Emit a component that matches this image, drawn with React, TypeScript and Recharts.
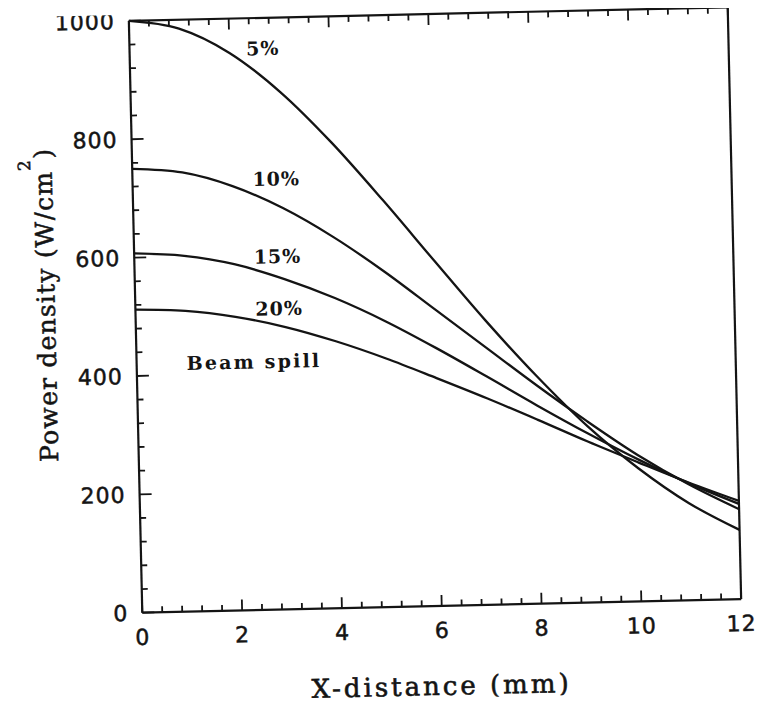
import { LineChart, Line, XAxis, YAxis, ReferenceDot } from 'recharts';

const xValues = [0, 1, 2, 3, 4, 5, 6, 7, 8, 9, 10, 11, 12];
const spill5 = [1000, 985, 942, 874, 787, 688, 584, 481, 385, 298, 225, 164, 117];
const spill10 = [750, 742, 717, 678, 627, 567, 501, 435, 369, 306, 247, 196, 152];
const spill15 = [607, 601, 585, 558, 524, 483, 436, 386, 335, 286, 240, 198, 161];
const spill20 = [512, 508, 496, 477, 451, 420, 385, 349, 311, 272, 235, 199, 166];

const curveLabels = ['5%', '10%', '15%', '20%', 'Beam spill'];
const curveLabelX = [2.67, 2.88, 2.87, 2.88, 2.35];
const curveLabelY = [949, 728, 597, 509, 420];

// minor ticks every 0.4 mm / 40 W, majors every 2 mm / 200 W
const xTicks = Array.from({ length: 31 }, (_, i) => Math.round(i * 4) / 10);
const yTicks = Array.from({ length: 26 }, (_, i) => i * 40);

const data = xValues.map((x, i) => ({
  x,
  s5: spill5[i],
  s10: spill10[i],
  s15: spill15[i],
  s20: spill20[i],
}));

const INK = '#141414';
const SERIF = '"DejaVu Serif", serif';
const SANS = '"DejaVu Sans", sans-serif';

const isMajor = (v: number, step: number) => Math.abs(v / step - Math.round(v / step)) < 1e-6;

function BottomTick({ x, y, payload }: any) {
  const major = isMajor(payload.value, 2);
  return (
    <g>
      <line x1={x} x2={x} y1={y} y2={y - (major ? 11 : 6)} stroke={INK} strokeWidth={1.8} />
      {major && (
        <text
          x={x}
          y={y + 32}
          textAnchor="middle"
          fontFamily={SANS}
          fontSize={22}
          letterSpacing={1}
          fill={INK}
          stroke={INK}
          strokeWidth={0.5}
        >
          {payload.value}
        </text>
      )}
    </g>
  );
}

function TopTick({ x, y, payload }: any) {
  const major = isMajor(payload.value, 2);
  return <line x1={x} x2={x} y1={y} y2={y + (major ? 11 : 6)} stroke={INK} strokeWidth={1.8} />;
}

function LeftTick({ x, y, payload }: any) {
  const major = isMajor(payload.value, 200);
  return (
    <g>
      <line x1={x} x2={x + (major ? 12 : 6)} y1={y} y2={y} stroke={INK} strokeWidth={1.8} />
      {major && (
        <text
          x={x - 14}
          y={y + 8}
          textAnchor="end"
          fontFamily={SANS}
          fontSize={22}
          letterSpacing={1}
          fill={INK}
          stroke={INK}
          strokeWidth={0.5}
        >
          {payload.value}
        </text>
      )}
    </g>
  );
}

function RightTick({ x, y, payload }: any) {
  const major = isMajor(payload.value, 200);
  return <line x1={x} x2={x - (major ? 11 : 6)} y1={y} y2={y} stroke={INK} strokeWidth={1.8} />;
}

function YTitle({ viewBox }: any) {
  const cx = viewBox.x + viewBox.width - 89;
  const cy = viewBox.y + viewBox.height / 2 - 14;
  return (
    <text
      x={cx}
      y={cy}
      transform={`rotate(-90 ${cx} ${cy})`}
      textAnchor="middle"
      dominantBaseline="central"
      fontFamily={SERIF}
      fontSize={25}
      letterSpacing={1.2}
      fill={INK}
      stroke={INK}
      strokeWidth={0.5}
    >
      Power density (W/cm
      <tspan fontSize={17} dy={-19}>2</tspan>
      <tspan dy={19}>)</tspan>
    </text>
  );
}

function XTitle({ viewBox }: any) {
  return (
    <text
      x={viewBox.x + viewBox.width / 2 - 2}
      y={viewBox.y + 89}
      textAnchor="middle"
      fontFamily={SERIF}
      fontSize={26}
      letterSpacing={3}
      fill={INK}
      stroke={INK}
      strokeWidth={0.6}
    >
      X-distance (mm)
    </text>
  );
}

const axisLine = { stroke: INK, strokeWidth: 2.2 };

export default function App() {
  return (
    <div style={{ width: 750, height: 690, transform: 'rotate(-1.3deg)', transformOrigin: '427px 302px' }}>
      <LineChart width={750} height={690} data={data} margin={{ top: 5, right: 22.5, bottom: 91, left: 126.5 }}>
        <XAxis
          xAxisId="b"
          dataKey="x"
          type="number"
          domain={[0, 12]}
          ticks={xTicks}
          interval={0}
          height={1}
          tickSize={0}
          tickMargin={0}
          tickLine={false}
          axisLine={axisLine}
          tick={<BottomTick />}
          label={{ content: <XTitle /> }}
        />
        <XAxis
          xAxisId="t"
          orientation="top"
          dataKey="x"
          type="number"
          domain={[0, 12]}
          ticks={xTicks}
          interval={0}
          height={1}
          tickSize={0}
          tickMargin={0}
          tickLine={false}
          axisLine={axisLine}
          tick={<TopTick />}
        />
        <YAxis
          yAxisId="l"
          type="number"
          domain={[0, 1000]}
          ticks={yTicks}
          interval={0}
          width={1}
          tickSize={0}
          tickMargin={0}
          tickLine={false}
          axisLine={axisLine}
          tick={<LeftTick />}
          label={{ content: <YTitle /> }}
        />
        <YAxis
          yAxisId="r"
          orientation="right"
          type="number"
          domain={[0, 1000]}
          ticks={yTicks}
          interval={0}
          width={1}
          tickSize={0}
          tickMargin={0}
          tickLine={false}
          axisLine={axisLine}
          tick={<RightTick />}
        />
        {['s5', 's10', 's15', 's20'].map((key) => (
          <Line
            key={key}
            xAxisId="b"
            yAxisId="l"
            dataKey={key}
            type="monotone"
            stroke={INK}
            strokeWidth={2.3}
            dot={false}
            activeDot={false}
            isAnimationActive={false}
          />
        ))}
        {curveLabels.map((text, i) => (
          <ReferenceDot
            key={text}
            xAxisId="b"
            yAxisId="l"
            x={curveLabelX[i]}
            y={curveLabelY[i]}
            r={1}
            fill="none"
            stroke="none"
            label={{
              content: ({ viewBox }: any) => (
                <text
                  x={viewBox.x + viewBox.width / 2}
                  y={viewBox.y + viewBox.height / 2}
                  textAnchor="middle"
                  dominantBaseline="central"
                  fontFamily={SERIF}
                  fontWeight="bold"
                  fontSize={19}
                  letterSpacing={text.length > 4 ? 2.2 : 1}
                  fill={INK}
                >
                  {text}
                </text>
              ),
            }}
          />
        ))}
      </LineChart>
    </div>
  );
}
